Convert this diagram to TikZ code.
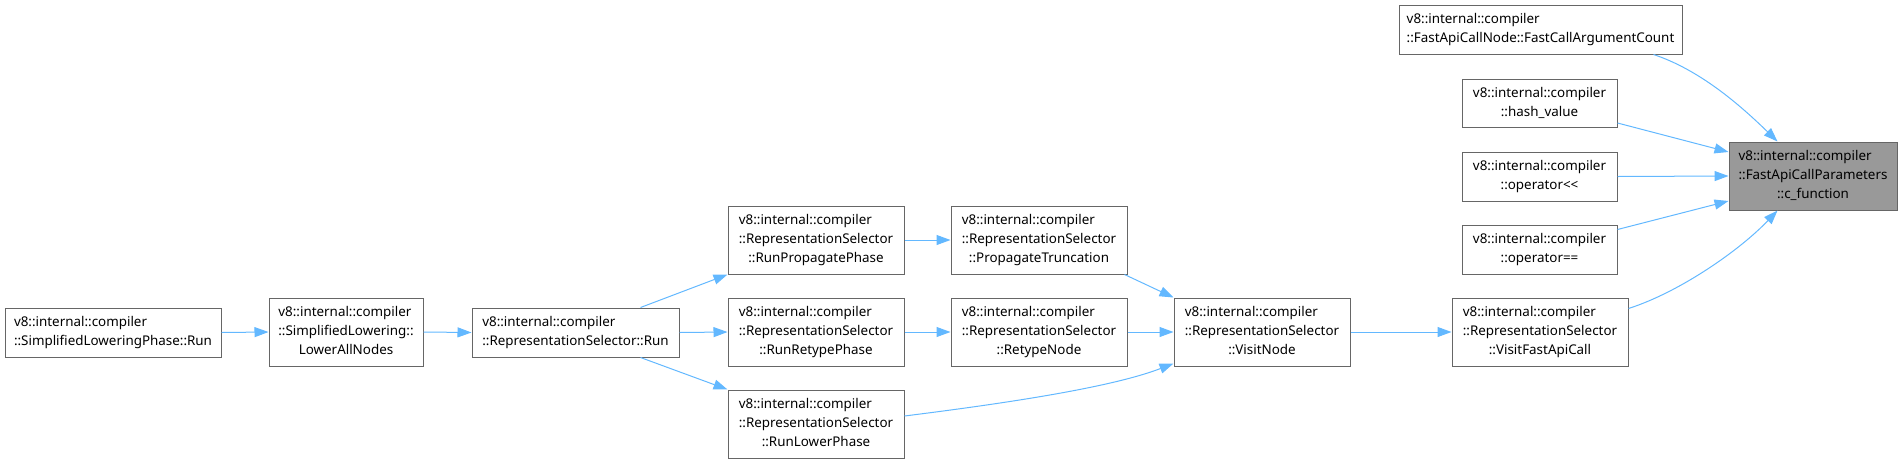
\documentclass[tikz,border=0pt]{standalone}
\usepackage{fontspec}
\setmainfont{Noto Sans}
\usetikzlibrary{arrows.meta}
\definecolor{edgeblue}{HTML}{63B8FF}
\definecolor{boxline}{HTML}{666666}
\definecolor{boxfill}{HTML}{999999}
\newcommand{\lbl}[2]{\begin{tabular}{@{}c@{}}\multicolumn{1}{@{}l@{}}{#1}\\#2\end{tabular}}
\tikzset{
  box/.style={draw=boxline, line width=1pt, fill=white, inner sep=0pt, align=center,
    font=\fontsize{13.4}{19}\selectfont, minimum width=176pt, minimum height=68pt},
  sbox/.style={box, minimum height=49pt},
  hl/.style={fill=boxfill},
  edge/.style={draw=edgeblue, line width=1pt, -{Triangle[length=14pt,width=10pt]}, color=edgeblue}
}
\begin{document}
\begin{tikzpicture}[x=1pt,y=-1pt]
\useasboundingbox (0,0) rectangle (1902,464);
\node[sbox, minimum width=216pt] (A) at (113,332.5) {\lbl{v8::internal::compiler}{::SimplifiedLoweringPhase::Run}};
\node[box, minimum width=154pt] (B) at (346,332) {\lbl{v8::internal::compiler}{::SimplifiedLowering::\\LowerAllNodes}};
\node[sbox, minimum width=207pt] (C) at (575.5,332.5) {\lbl{v8::internal::compiler}{::RepresentationSelector::Run}};
\node[box] (RPP) at (816,240) {\lbl{v8::internal::compiler}{::RepresentationSelector\\::RunPropagatePhase}};
\node[box] (PT) at (1039,240) {\lbl{v8::internal::compiler}{::RepresentationSelector\\::PropagateTruncation}};
\node[box] (RRP) at (816,332) {\lbl{v8::internal::compiler}{::RepresentationSelector\\::RunRetypePhase}};
\node[box] (RN) at (1039,332) {\lbl{v8::internal::compiler}{::RepresentationSelector\\::RetypeNode}};
\node[box] (RLP) at (816,424) {\lbl{v8::internal::compiler}{::RepresentationSelector\\::RunLowerPhase}};
\node[box] (VN) at (1262,332) {\lbl{v8::internal::compiler}{::RepresentationSelector\\::VisitNode}};
\node[box] (VF) at (1540,332) {\lbl{v8::internal::compiler}{::RepresentationSelector\\::VisitFastApiCall}};
\node[sbox, minimum width=283pt] (FC) at (1540.5,29.5) {\lbl{v8::internal::compiler}{::FastApiCallNode::FastCallArgumentCount}};
\node[sbox, minimum width=155pt, minimum height=48pt] (HV) at (1539.5,103) {\lbl{v8::internal::compiler}{::hash\_value}};
\node[sbox, minimum width=155pt] (OL) at (1539.5,176.5) {\lbl{v8::internal::compiler}{::operator<{}<}};
\node[sbox, minimum width=155pt] (OE) at (1539.5,249.5) {\lbl{v8::internal::compiler}{::operator==}};
\node[box, hl, minimum width=168pt] (CF) at (1813,176) {\lbl{v8::internal::compiler}{::FastApiCallParameters\\::c\_function}};
\draw[edge] (A.east) -- (B.west);
\draw[edge] (B.east) -- (C.west);
\draw[edge] ([xshift=-39pt]C.north east) -- (RPP.south west);
\draw[edge] (C.east) -- (RRP.west);
\draw[edge] ([xshift=-39pt]C.south east) -- (RLP.north west);
\draw[edge] (RPP.east) -- (PT.west);
\draw[edge] (RRP.east) -- (RN.west);
\draw[edge] ([xshift=-3pt]PT.south east) -- (VN.north west);
\draw[edge] (RN.east) -- (VN.west);
\draw[edge] ([yshift=8pt]RLP.east) .. controls (1000,404) and (1110,388) .. ([yshift=3pt]VN.south west);
\draw[edge] (VN.east) -- (VF.west);
\draw[edge] ([xshift=-29pt]FC.south east) .. controls (1700,70) and (1740,105) .. ([xshift=49pt]CF.north west);
\draw[edge] ([yshift=-20pt]HV.east) -- ([yshift=24pt]CF.west);
\draw[edge] (OL.east) -- (CF.west);
\draw[edge] ([yshift=20pt]OE.east) -- ([yshift=-25pt]CF.west);
\draw[edge] ([yshift=-11pt]VF.north east) .. controls (1680,292) and (1740,250) .. ([xshift=49pt]CF.south west);
\end{tikzpicture}
\end{document}
